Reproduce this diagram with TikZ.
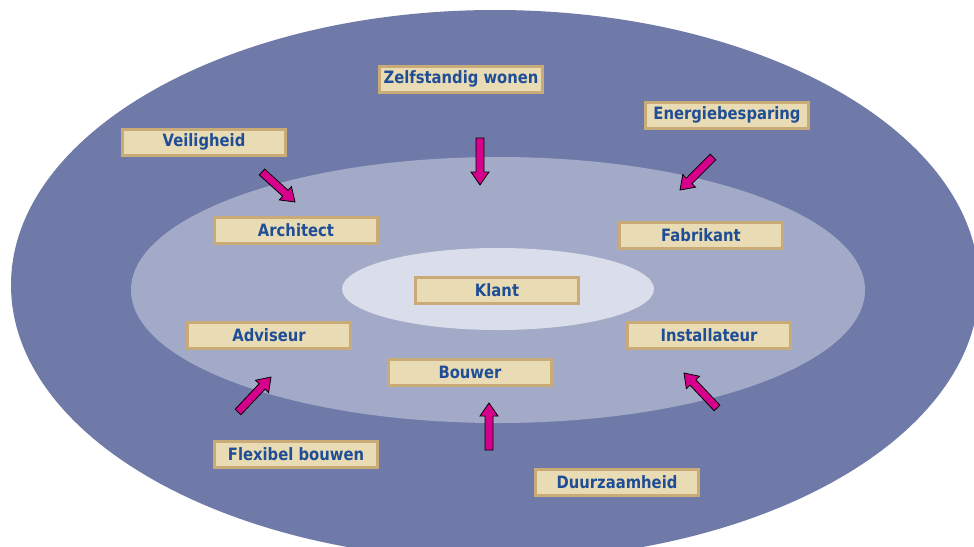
\documentclass[tikz,border=0pt]{standalone}
\usepackage{fontspec}
\setmainfont{DejaVu Sans}[FakeStretch=0.87]
\usetikzlibrary{calc}
\definecolor{outerc}{RGB}{111,122,168}
\definecolor{midc}{RGB}{163,170,200}
\definecolor{innerc}{RGB}{218,221,234}
\definecolor{boxfill}{RGB}{233,219,180}
\definecolor{boxline}{RGB}{200,171,119}
\definecolor{txtc}{RGB}{31,78,150}
\definecolor{arrc}{RGB}{214,0,140}
\tikzset{
  labelbox/.style={draw=boxline, fill=boxfill, line width=3pt, minimum width=163pt,
    minimum height=26pt, inner sep=0pt, text=txtc, font=\fontsize{17}{20}\selectfont\bfseries},
  blockarr/.style={fill=arrc, draw=black, line width=0.8pt, line join=miter}
}
\newcommand{\blockarrow}[2]{%
  \draw[blockarr] ($(#1)!4pt!90:(#2)$) -- ($($(#2)!13pt!(#1)$)!4pt!-90:(#1)$)
    -- ($($(#2)!13pt!(#1)$)!9pt!-90:(#1)$) -- (#2)
    -- ($($(#2)!13pt!(#1)$)!9pt!90:(#1)$) -- ($($(#2)!13pt!(#1)$)!4pt!90:(#1)$)
    -- ($(#1)!4pt!-90:(#2)$) -- cycle;}
\begin{document}
\begin{tikzpicture}[x=1pt,y=-1pt]
\useasboundingbox (0,0) rectangle (974,546);
\fill[white] (0,0) rectangle (974,546);
\begin{scope}
\clip (0,0) rectangle (974,546);
\fill[outerc] (495,285) ellipse [x radius=484pt, y radius=275pt];
\fill[midc] (498,290) ellipse [x radius=367pt, y radius=133pt];
\fill[innerc] (498,289) ellipse [x radius=156pt, y radius=41pt];
\end{scope}

\node[labelbox] (zelf) at (461,79) {Zelfstandig wonen};
\node[labelbox] (energ) at (727,115) {Energiebesparing};
\node[labelbox] (veil) at (204,142) {Veiligheid};
\node[labelbox] (arch) at (296,230) {Architect};
\node[labelbox] (fabr) at (701,235) {Fabrikant};
\node[labelbox] (klant) at (497,290) {Klant};
\node[labelbox] (advi) at (269,335) {Adviseur};
\node[labelbox] (inst) at (709,335) {Installateur};
\node[labelbox] (bouw) at (470,372) {Bouwer};
\node[labelbox] (flex) at (296,454) {Flexibel bouwen};
\node[labelbox] (duur) at (617,482) {Duurzaamheid};

\coordinate (a1s) at (480,138); \coordinate (a1e) at (480,185);
\coordinate (a2s) at (713,157); \coordinate (a2e) at (680,190);
\coordinate (a3s) at (262,172); \coordinate (a3e) at (295,202);
\coordinate (a4s) at (238,412); \coordinate (a4e) at (271,377);
\coordinate (a5s) at (489,450); \coordinate (a5e) at (489,403);
\coordinate (a6s) at (717,408); \coordinate (a6e) at (684,373);
\blockarrow{a1s}{a1e}
\blockarrow{a2s}{a2e}
\blockarrow{a3s}{a3e}
\blockarrow{a4s}{a4e}
\blockarrow{a5s}{a5e}
\blockarrow{a6s}{a6e}
\end{tikzpicture}
\end{document}
